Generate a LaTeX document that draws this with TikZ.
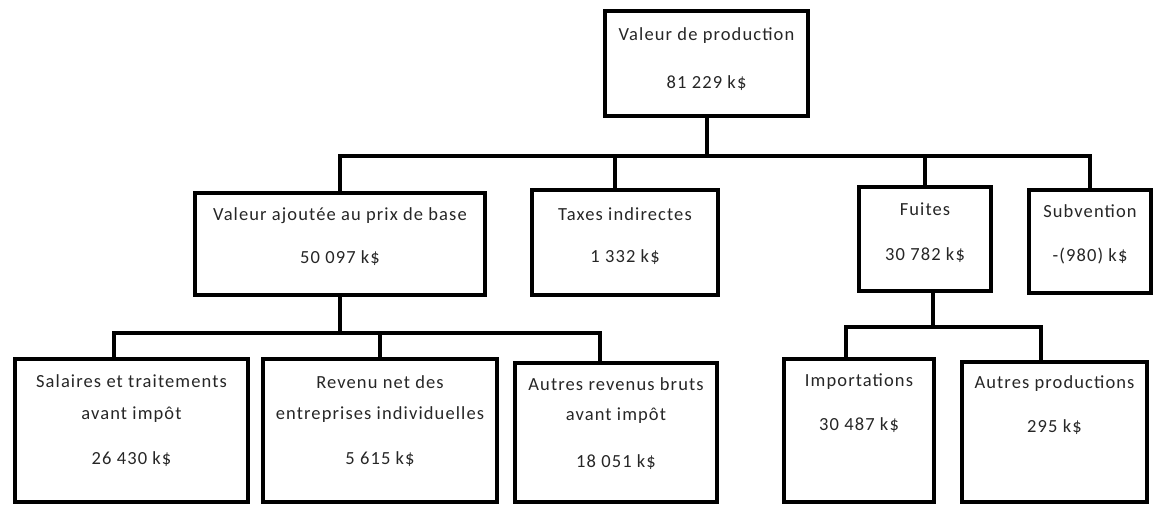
\documentclass[tikz,border=0pt]{standalone}
\usepackage{fontspec}
\setmainfont{Carlito}[LetterSpace=6]
\usetikzlibrary{calc}
\newcommand\boxfont{\fontsize{18.5}{22}\selectfont}
\begin{document}
\begin{tikzpicture}[x=1pt,y=-1pt,
  box/.style={draw=black, line width=4pt, inner sep=0pt},
  txt/.style={anchor=base, inner sep=0pt, font=\boxfont, text=black!85},
  link/.style={draw=black, line width=4pt}]
\useasboundingbox (0,0) rectangle (1153,506);
% boxes
\node[box, minimum width=203pt, minimum height=105pt] (top) at (706.5,63.5) {};
\node[box, minimum width=290pt, minimum height=102pt] (va) at (340,244) {};
\node[box, minimum width=186pt, minimum height=105pt] (tax) at (625,242.5) {};
\node[box, minimum width=132pt, minimum height=104pt] (fui) at (925,239) {};
\node[box, minimum width=122pt, minimum height=103pt] (sub) at (1090,241.5) {};
\node[box, minimum width=233pt, minimum height=143pt] (b1) at (131.5,430.5) {};
\node[box, minimum width=234pt, minimum height=143pt] (b2) at (380,430.5) {};
\node[box, minimum width=202pt, minimum height=139pt] (b3) at (616,432.5) {};
\node[box, minimum width=150pt, minimum height=143pt] (imp) at (859,430.5) {};
\node[box, minimum width=185pt, minimum height=140pt] (aut) at (1054.5,432) {};
% texts
\node[txt] (t1) at (706.5,40) {Valeur de production};
\node[txt] (t2) at (706.5,88) {81 229 k\$};
\node[txt] (t3) at (340,220) {Valeur ajoutée au prix de base};
\node[txt] (t4) at (340,263) {50 097 k\$};
\node[txt] (t5) at (625,220) {Taxes indirectes};
\node[txt] (t6) at (625,262) {1 332 k\$};
\node[txt] (t7) at (925,215) {Fuites};
\node[txt] (t8) at (925,260) {30 782 k\$};
\node[txt] (t9) at (1090,217) {Subvention};
\node[txt] (t10) at (1090,261) {-(980) k\$};
\node[txt] (t11) at (131.5,387) {Salaires et traitements};
\node[txt] (t12) at (131.5,419) {avant impôt};
\node[txt] (t13) at (131.5,464) {26 430 k\$};
\node[txt] (t14) at (380,388) {Revenu net des};
\node[txt] (t15) at (380,419) {entreprises individuelles};
\node[txt] (t16) at (380,464) {5 615 k\$};
\node[txt] (t17) at (616,390) {Autres revenus bruts};
\node[txt] (t18) at (616,420) {avant impôt};
\node[txt] (t19) at (616,467) {18 051 k\$};
\node[txt] (t20) at (859,386) {Importations};
\node[txt] (t21) at (859,430) {30 487 k\$};
\node[txt] (t22) at (1054.5,388) {Autres productions};
\node[txt] (t23) at (1054.5,432) {295 k\$};
% connectors
\coordinate (bus) at (0,156);
\coordinate (bus2) at (0,333);
\coordinate (bus3) at (0,327);
\coordinate (taxin) at ([xshift=-10pt]tax.north);
\coordinate (b1in) at ([xshift=-18pt]b1.north);
\coordinate (b3in) at ([xshift=-16pt]b3.north);
\coordinate (fuiout) at ([xshift=8pt]fui.south);
\coordinate (impin) at ([xshift=-13pt]imp.north);
\coordinate (autin) at ([xshift=-14pt]aut.north);
\draw[link] (top.south) -- (top.south |- bus);
\draw[link] (va.north) -- (va.north |- bus) -- (sub.north |- bus) -- (sub.north);
\draw[link] (taxin) -- (taxin |- bus);
\draw[link] (fui.north) -- (fui.north |- bus);
\draw[link] (va.south) -- (va.south |- bus2);
\draw[link] (b1in) -- (b1in |- bus2) -- (b3in |- bus2) -- (b3in);
\draw[link] (b2.north) -- (b2.north |- bus2);
\draw[link] (fuiout) -- (fuiout |- bus3);
\draw[link] (impin) -- (impin |- bus3) -- (autin |- bus3) -- (autin);
\end{tikzpicture}
\end{document}
